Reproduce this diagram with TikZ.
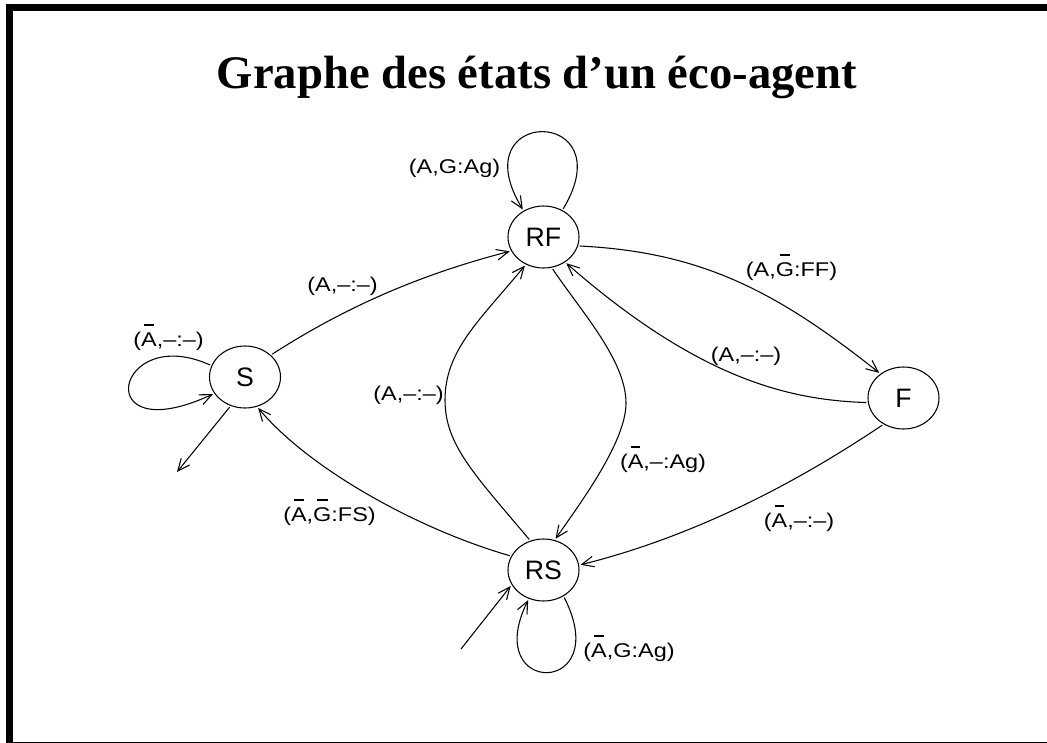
\documentclass[tikz,border=0pt]{standalone}
\usepackage{fontspec}
\setmainfont{Liberation Sans}
\newfontfamily\titlefont{Liberation Serif}
\newfontfamily\lblfont[FakeStretch=1.18]{Liberation Sans}
\usetikzlibrary{shapes.geometric,arrows.meta}

% negated letter: short bar set well above the glyph
\newcommand\negbar[1]{\setbox0\hbox{#1}\makebox[0pt][l]{\hspace{0.2\wd0}\rule[1.45\ht0]{0.6\wd0}{1.4pt}}\box0}

\tikzset{
  state/.style={ellipse, draw, line width=0.8pt, minimum width=53.25pt,
    minimum height=46.5pt, inner sep=0pt, outer sep=1.5pt,
    font=\fontsize{20}{24}\selectfont},
  lbl/.style={anchor=base, inner sep=0pt, font=\lblfont\fontsize{14.9}{17}\selectfont},
  trans/.style={draw, line width=0.8pt, -{Straight Barb[length=9pt,width=8pt]}}
}

\begin{document}
\begin{tikzpicture}[x=0.75pt, y=-0.75pt]
  \useasboundingbox (0,0) rectangle (1047,743);
  \fill[white] (0,0) rectangle (1047,743);

  % frame
  \fill[black] (6,4) rectangle (13,743);
  \fill[black] (6,4) rectangle (1047,11);
  \fill[black] (6,741.5) rectangle (1047,743);

  \node[font=\titlefont\bfseries\fontsize{35}{40}\selectfont, anchor=base, inner sep=0pt]
    (title) at (537,88) {Graphe des états d’un éco-agent};

  % states
  \node[state] (RF) at (543.5,237) {RF};
  \node[state] (S)  at (245,377)   {S};
  \node[state] (F)  at (903.5,398) {F};
  \node[state] (RS) at (543.5,570) {RS};

  \coordinate (exit) at (177,472);
  \coordinate (init) at (461,649);

  % transitions
  \draw[trans] (RF.55) .. controls (625,106) and (460,106) .. (RF.127);
  \draw[trans] (S.40) .. controls (347,306) and (422,274) .. (RF.203);
  \draw[trans] (S.161) .. controls (115,322) and (88,452) .. (S.208);
  \draw[trans] (S.243) -- (exit);
  \draw[trans] (RS.157) .. controls (420,530) and (310,470) .. (S.293);
  \draw[trans] (RS.115) .. controls (475,475) and (445,445) .. (445,400)
                        .. controls (445,350) and (480,320) .. (RF.237);
  \draw[trans] (RF.286) .. controls (580,310) and (626,360) .. (626,403)
                        .. controls (626,440) and (585,497) .. (RS.69);
  \draw[trans] (RF.346) .. controls (700,252) and (775,290) .. (F.134);
  \draw[trans] (F.187) .. controls (790,400) and (700,380) .. (RF.311);
  \draw[trans] (F.232) .. controls (830,460) and (720,530) .. (RS.8.5);
  \draw[trans] (RS.307) .. controls (615,697) and (480,697) .. (RS.243);
  \draw[trans] (init) -- (RS.206);

  % transition labels
  \node[lbl] (l1)  at (454.5,173) {(A,G:Ag)};
  \node[lbl] (l2)  at (342.5,291) {(A,–:–)};
  \node[lbl] (l3)  at (168.5,346) {(\negbar{A},–:–)};
  \node[lbl] (l4)  at (329.5,521) {(\negbar{A},\negbar{G}:FS)};
  \node[lbl] (l5)  at (408.5,400) {(A,–:–)};
  \node[lbl] (l6)  at (663,468)   {(\negbar{A},–:Ag)};
  \node[lbl] (l7)  at (791.5,276) {(A,\negbar{G}:FF)};
  \node[lbl] (l8)  at (746,361)   {(A,–:–)};
  \node[lbl] (l9)  at (799,527)   {(\negbar{A},–:–)};
  \node[lbl] (l10) at (629,657)   {(\negbar{A},G:Ag)};
\end{tikzpicture}
\end{document}
